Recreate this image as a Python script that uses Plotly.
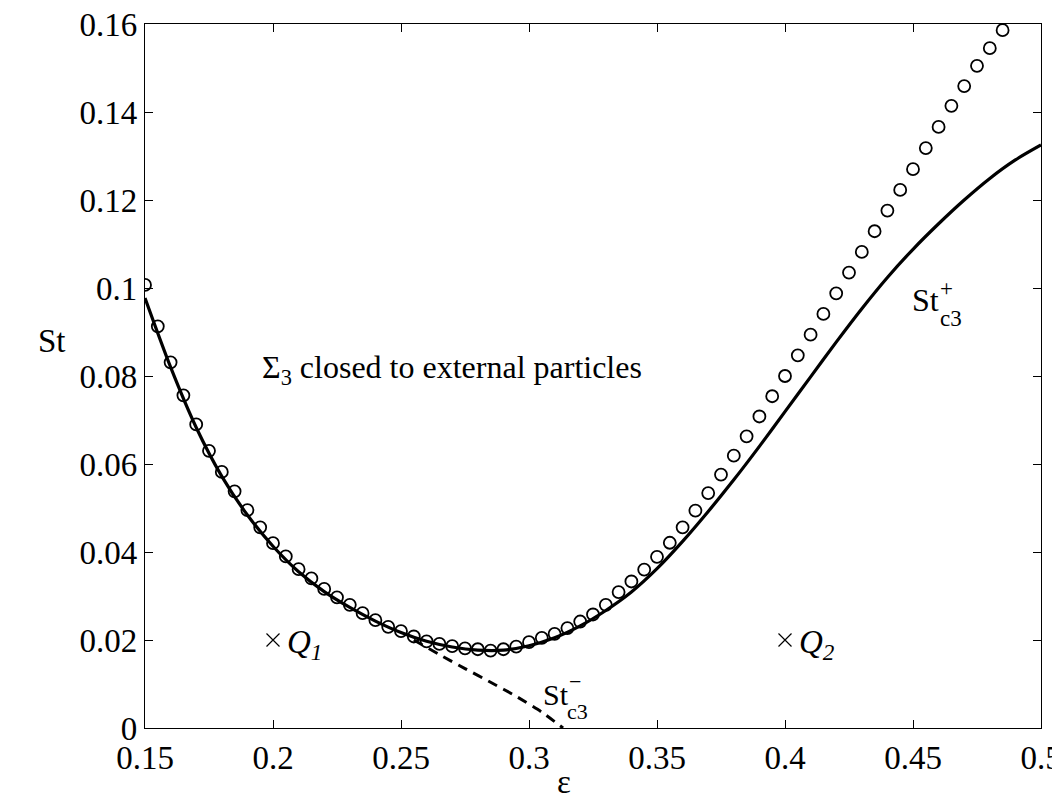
import plotly.graph_objects as go

# ---- data ----
eps_markers = [0.15, 0.155, 0.16, 0.165, 0.17, 0.175, 0.18, 0.185, 0.19, 0.195,
               0.2, 0.205, 0.21, 0.215, 0.22, 0.225, 0.23, 0.235, 0.24, 0.245,
               0.25, 0.255, 0.26, 0.265, 0.27, 0.275, 0.28, 0.285, 0.29, 0.295,
               0.3, 0.305, 0.31, 0.315, 0.32, 0.325, 0.33, 0.335, 0.34, 0.345,
               0.35, 0.355, 0.36, 0.365, 0.37, 0.375, 0.38, 0.385, 0.39, 0.395,
               0.4, 0.405, 0.41, 0.415, 0.42, 0.425, 0.43, 0.435, 0.44, 0.445,
               0.45, 0.455, 0.46, 0.465, 0.47, 0.475, 0.48, 0.485]
st_markers = [0.1007, 0.0913, 0.0831, 0.0756, 0.0690, 0.0630, 0.0582, 0.0538, 0.0495, 0.0456,
              0.0420, 0.0390, 0.0361, 0.0340, 0.0316, 0.0297, 0.0280, 0.0261, 0.0245, 0.0230,
              0.0220, 0.0208, 0.0197, 0.0191, 0.0186, 0.0181, 0.0179, 0.0176, 0.0179, 0.0185,
              0.0195, 0.0205, 0.0214, 0.0227, 0.0242, 0.0258, 0.0280, 0.0309, 0.0333, 0.0360,
              0.0389, 0.0421, 0.0456, 0.0494, 0.0534, 0.0576, 0.0619, 0.0663, 0.0708, 0.0754,
              0.0800, 0.0847, 0.0894, 0.0941, 0.0988, 0.1035, 0.1082, 0.1129, 0.1176, 0.1223,
              0.1270, 0.1318, 0.1366, 0.1414, 0.1459, 0.1505, 0.1545, 0.1586]

eps_plus = [0.15, 0.16, 0.17, 0.18, 0.19, 0.20, 0.21, 0.22, 0.23, 0.24, 0.25, 0.26,
            0.27, 0.28, 0.29, 0.30, 0.31, 0.32, 0.33, 0.34, 0.35, 0.36, 0.37, 0.38,
            0.39, 0.40, 0.41, 0.42, 0.43, 0.44, 0.45, 0.46, 0.47, 0.48, 0.49, 0.50]
st_plus = [0.0977, 0.0820, 0.0683, 0.0572, 0.0484, 0.0413, 0.0355, 0.0310, 0.0274, 0.0243,
           0.0217, 0.0197, 0.0184, 0.0177, 0.0177, 0.0187, 0.0205, 0.0232, 0.0267, 0.0309,
           0.0362, 0.0424, 0.0492, 0.0564, 0.0640, 0.0719, 0.0798, 0.0877, 0.0953, 0.1024,
           0.1088, 0.1146, 0.1200, 0.1249, 0.1291, 0.1325]

eps_minus = [0.255, 0.265, 0.275, 0.285, 0.295, 0.305, 0.3133]
st_minus = [0.0200, 0.0167, 0.0135, 0.0104, 0.0072, 0.0036, 0.0]

q_eps = [0.2, 0.4]
q_st = [0.02, 0.02]
q_names = ["1", "2"]

x_ticks = [0.15, 0.2, 0.25, 0.3, 0.35, 0.4, 0.45, 0.5]
x_ticklabels = ["0.15", "0.2", "0.25", "0.3", "0.35", "0.4", "0.45", "0.5"]
y_ticks = [0, 0.02, 0.04, 0.06, 0.08, 0.1, 0.12, 0.14, 0.16]
y_ticklabels = ["0", "0.02", "0.04", "0.06", "0.08", "0.1", "0.12", "0.14", "0.16"]

FONT = "Liberation Serif, Times New Roman, serif"

L, R, T, B = 137, 27, 16, 83
W, H = 1060, 803
PW, PH = W - L - R, H - T - B

fig = go.Figure()
fig.add_trace(go.Scatter(x=eps_plus, y=st_plus, mode="lines",
                         line=dict(color="black", width=3.2, shape="spline", smoothing=0.8),
                         showlegend=False, hoverinfo="skip"))
fig.add_trace(go.Scatter(x=eps_minus, y=st_minus, mode="lines",
                         line=dict(color="black", width=3, dash="10px,7px", shape="spline", smoothing=0.6),
                         showlegend=False, hoverinfo="skip"))
fig.add_trace(go.Scatter(x=eps_markers, y=st_markers, mode="markers",
                         marker=dict(symbol="circle-open", size=12, color="black",
                                     line=dict(width=1.8, color="black")),
                         showlegend=False, hoverinfo="skip"))
fig.add_trace(go.Scatter(x=q_eps, y=q_st, mode="markers",
                         marker=dict(symbol="x-thin-open", size=13, color="black",
                                     line=dict(width=1.2, color="black")),
                         showlegend=False, hoverinfo="skip"))

ann = []
for xe, ye, n in zip(q_eps, q_st, q_names):
    ann.append(dict(x=xe, y=ye, xref="x", yref="y", xshift=12, yshift=-4,
                    text=f"<i>Q</i><sub><i>{n}</i></sub>", showarrow=False,
                    xanchor="left", yanchor="middle",
                    font=dict(family=FONT, size=33, color="black")))
ann += [
    dict(x=0.1949, y=0.0814, xref="x", yref="y", showarrow=False, xanchor="left", yanchor="middle",
         text="Σ<sub>3</sub> closed to external particles", font=dict(family=FONT, size=32, color="black")),
    # St+ label
    dict(x=0.4549, y=0.0972, xref="x", yref="y", showarrow=False, text="St",
         font=dict(family=FONT, size=32, color="black")),
    dict(x=0.4629, y=0.0998, xref="x", yref="y", showarrow=False, text="+",
         font=dict(family=FONT, size=23, color="black")),
    dict(x=0.4648, y=0.0930, xref="x", yref="y", showarrow=False, text="c3",
         font=dict(family=FONT, size=23, color="black")),
    # St- label
    dict(x=0.3104, y=0.0077, xref="x", yref="y", showarrow=False, text="St",
         font=dict(family=FONT, size=30, color="black")),
    dict(x=0.3180, y=0.0106, xref="x", yref="y", showarrow=False, text="−",
         font=dict(family=FONT, size=22, color="black")),
    dict(x=0.3188, y=0.0037, xref="x", yref="y", showarrow=False, text="c3",
         font=dict(family=FONT, size=22, color="black")),
    # axis titles (placed in paper coordinates)
    dict(x=(44 - L) / PW, y=0.088, xref="paper", yref="y", showarrow=False, text="St",
         xanchor="center", yanchor="middle",
         font=dict(family=FONT, size=33, color="black")),
    dict(x=(556 - L) / PW, y=(H - B - 774) / PH, xref="paper", yref="paper", showarrow=False,
         text="ε", xanchor="center", yanchor="middle",
         font=dict(family=FONT, size=33, color="black")),
]

fig.update_layout(
    width=W, height=H,
    margin=dict(l=L, r=R, t=T, b=B, autoexpand=False),
    paper_bgcolor="white", plot_bgcolor="white",
    annotations=ann,
    font=dict(family=FONT, size=33, color="black"),
)
fig.update_xaxes(range=[0.15, 0.5], tickvals=x_ticks, ticktext=x_ticklabels,
                 ticks="inside", ticklen=8, tickwidth=1, tickcolor="black",
                 showline=True, linecolor="black", linewidth=1.3, mirror="ticks",
                 showgrid=False, zeroline=False, ticklabeloverflow="allow",
                 automargin=False,
                 tickfont=dict(family=FONT, size=33, color="black"))
fig.update_yaxes(range=[0, 0.16], tickvals=y_ticks, ticktext=y_ticklabels,
                 ticks="inside", ticklen=8, tickwidth=1, tickcolor="black",
                 showline=True, linecolor="black", linewidth=1.3, mirror="ticks",
                 showgrid=False, zeroline=False, ticklabeloverflow="allow",
                 automargin=False,
                 tickfont=dict(family=FONT, size=33, color="black"))

fig.write_html("out.html")
